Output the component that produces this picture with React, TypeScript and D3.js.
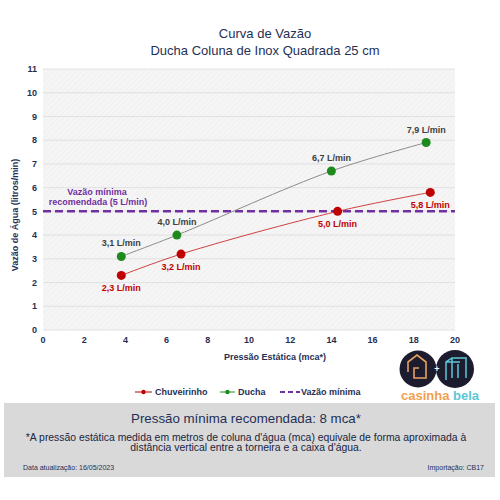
import React from 'react';
import * as d3 from 'd3';

// pressão (mca) x vazão (L/min)
const duchaPressure = [3.8, 6.5, 14.0, 18.6];
const duchaFlow = [3.1, 4.0, 6.7, 7.9];
const chuveirinhoPressure = [3.8, 6.7, 14.3, 18.8];
const chuveirinhoFlow = [2.3, 3.2, 5.0, 5.8];
const minFlow = 5;
const xTicks = [0, 2, 4, 6, 8, 10, 12, 14, 16, 18, 20];
const yTicks = [0, 1, 2, 3, 4, 5, 6, 7, 8, 9, 10, 11];
const legendItems = ['Chuveirinho', 'Ducha', 'Vazão mínima'];

const NAVY = '#1f3056';
const RED = '#c00000';
const GREEN = '#1e8a1e';
const PURPLE = '#7030a0';
const FONT = '"Liberation Sans", Arial, sans-serif';

const fmt = (v: number) => v.toFixed(1).replace('.', ',') + ' L/min';

const App: React.FC = () => {
    const x = d3.scaleLinear().domain([0, 20]).range([43, 455]);
    const y = d3.scaleLinear().domain([0, 11]).range([330, 69]);

    const line = d3.line<[number, number]>()
        .x(d => x(d[0]))
        .y(d => y(d[1]))
        .curve(d3.curveCatmullRom.alpha(0.5));

    const ducha = duchaPressure.map((p, i) => [p, duchaFlow[i]] as [number, number]);
    const chuv = chuveirinhoPressure.map((p, i) => [p, chuveirinhoFlow[i]] as [number, number]);

    return (
        <svg width={500} height={500} style={{ position: 'absolute', left: 0, top: 0, fontFamily: FONT }}>
            <defs>
                <pattern id="hatch" width="4" height="4" patternUnits="userSpaceOnUse" patternTransform="rotate(45)">
                    <rect width="4" height="4" fill="#f5f5f5" />
                    <line x1="0" y1="0" x2="0" y2="4" stroke="#ebebeb" strokeWidth="1" />
                </pattern>
            </defs>
            <rect width={500} height={500} fill="#fff" />

            <text x={265} y={38} textAnchor="middle" fontSize={13} fill={NAVY}>Curva de Vazão</text>
            <text x={265} y={55} textAnchor="middle" fontSize={13} fill={NAVY}>Ducha Coluna de Inox Quadrada 25 cm</text>

            <rect x={x(0)} y={y(11)} width={x(20) - x(0)} height={y(0) - y(11)} fill="url(#hatch)" />
            {yTicks.map(t => (
                <g key={t}>
                    <line x1={x(0)} x2={x(20)} y1={y(t)} y2={y(t)} stroke="#dcdcdc" strokeWidth={0.8} />
                    <text x={37} y={y(t)} dy="0.35em" textAnchor="end" fontSize={9} fontWeight="bold" fill={NAVY}>{t}</text>
                </g>
            ))}
            {xTicks.map(t => (
                <text key={t} x={x(t)} y={343} textAnchor="middle" fontSize={9} fontWeight="bold" fill={NAVY}>{t}</text>
            ))}

            <text transform={`translate(18,215) rotate(-90)`} textAnchor="middle" fontSize={9} fontWeight="bold" fill={NAVY}>Vazão de Água (litros/min)</text>
            <text x={275} y={360} textAnchor="middle" fontSize={9} fontWeight="bold" fill={NAVY}>Pressão Estática (mca*)</text>

            <line x1={x(0)} x2={x(20)} y1={y(minFlow)} y2={y(minFlow)} stroke={PURPLE} strokeWidth={2.5} strokeDasharray="8,4" />
            <text x={97} y={195} textAnchor="middle" fontSize={9} fontWeight="bold" fill={PURPLE}>Vazão mínima</text>
            <text x={98} y={205} textAnchor="middle" fontSize={9} fontWeight="bold" fill={PURPLE}>recomendada (5 L/min)</text>

            <path d={line(ducha) ?? ''} fill="none" stroke="#8c8c8c" strokeWidth={1} />
            <path d={line(chuv) ?? ''} fill="none" stroke="#d04040" strokeWidth={1} />

            {ducha.map((d, i) => (
                <g key={'d' + i}>
                    <circle cx={x(d[0])} cy={y(d[1])} r={4.5} fill={GREEN} />
                    <text x={x(d[0])} y={y(d[1]) - 10} textAnchor="middle" fontSize={9} fontWeight="bold" fill="#404040">{fmt(d[1])}</text>
                </g>
            ))}
            {chuv.map((d, i) => (
                <g key={'c' + i}>
                    <circle cx={x(d[0])} cy={y(d[1])} r={4.5} fill={RED} />
                    <text x={x(d[0])} y={y(d[1]) + 16} textAnchor="middle" fontSize={9} fontWeight="bold" fill={RED}>{fmt(d[1])}</text>
                </g>
            ))}

            {/* legenda */}
            <g fontSize={9} fontWeight="bold" fill={NAVY}>
                <line x1={135} x2={152} y1={392} y2={392} stroke={RED} strokeWidth={1} />
                <circle cx={143.5} cy={392} r={2.2} fill={RED} />
                <text x={155} y={392} dy="0.35em">{legendItems[0]}</text>
                <line x1={220} x2={235} y1={392} y2={392} stroke={GREEN} strokeWidth={1} />
                <circle cx={227.5} cy={392} r={2.2} fill={GREEN} />
                <text x={238} y={392} dy="0.35em">{legendItems[1]}</text>
                <line x1={280} x2={300} y1={392} y2={392} stroke={PURPLE} strokeWidth={2} strokeDasharray="5,3" />
                <text x={301} y={392} dy="0.35em">{legendItems[2]}</text>
            </g>

            {/* logo */}
            <circle cx={418} cy={369} r={18.5} fill="#1c1c2e" />
            <circle cx={455} cy={369} r={19} fill="#1c1c2e" />
            <path d="M408,372 L408,362 L417,355 L426,362 L426,378 L414,378 L414,368 L419,368" fill="none" stroke="#e8a060" strokeWidth={1.6} />
            <text x={437} y={372} textAnchor="middle" fontSize={9} fontWeight="bold" fill="#fff">+</text>
            <path d="M446,380 L446,362 L452,358 L466,358 L466,378 M452,358 L452,378 M458,364 L458,378 M446,362 L460,362" fill="none" stroke="#5bc8d8" strokeWidth={1.5} />
            <text x={401} y={400} fontSize={13} fontWeight="bold">
                <tspan fill="#f0a050">casinha </tspan><tspan fill="#5cc6d6">bela</tspan>
            </text>

            {/* caixa inferior */}
            <rect x={4} y={403} width={491} height={74} fill="#d9d9d9" />
            <text x={246} y={423} textAnchor="middle" fontSize={13.3} fill={NAVY}>Pressão mínima recomendada: 8 mca*</text>
            <text x={246} y={441} textAnchor="middle" fontSize={10.4} fill="#1a2440">*A pressão estática medida em metros de coluna d'água (mca) equivale de forma aproximada à</text>
            <text x={246} y={451} textAnchor="middle" fontSize={10.4} fill="#1a2440">distância vertical entre a torneira e a caixa d'água.</text>
            <text x={23} y={470} fontSize={7} fill={NAVY}>Data atualização: 16/05/2023</text>
            <text x={484} y={470} textAnchor="end" fontSize={7} fill={NAVY}>Importação: CB17</text>
        </svg>
    );
};

export default App;
